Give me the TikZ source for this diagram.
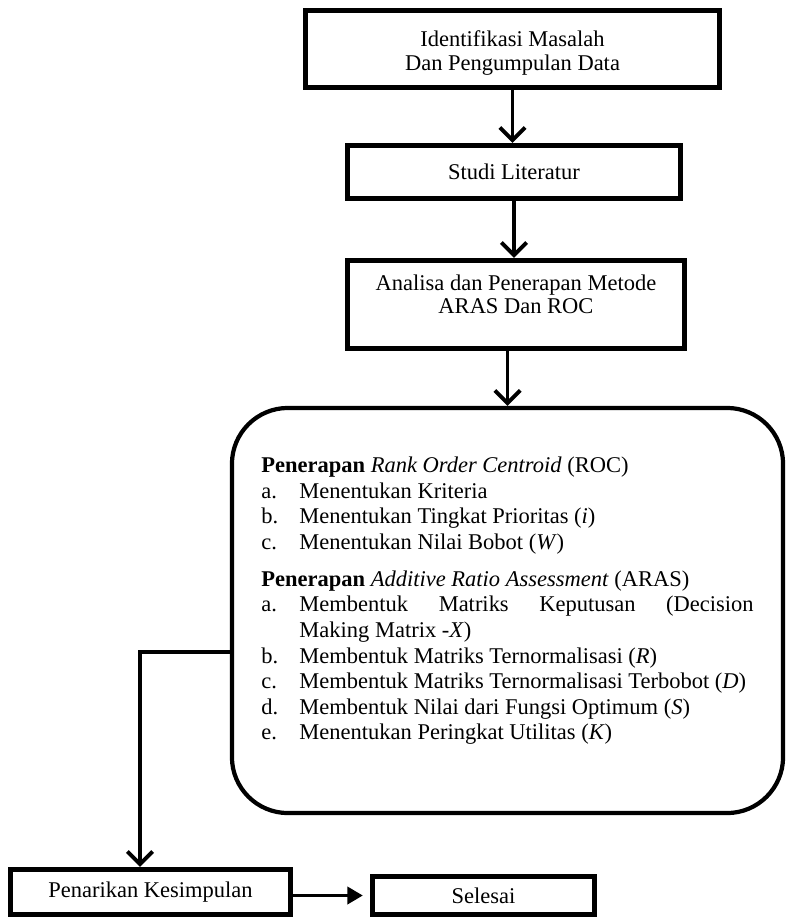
\documentclass[tikz,border=0pt]{standalone}
\usepackage{fontspec}
\setmainfont{Liberation Serif}
\usetikzlibrary{positioning, calc, arrows.meta}

\newcommand{\rocitem}[2]{\par\noindent\hangindent=0.95cm\hangafter=1\makebox[0.95cm][l]{#1}#2\par}

\begin{document}
\begin{tikzpicture}[x=0.025cm, y=-0.025cm,
        stepbox/.style={rectangle, draw=black, line width=3.6pt, align=center, inner sep=0pt, font=\fontsize{16}{16.5}\selectfont},
        methodbox/.style={rectangle, draw=black, line width=3pt, rounded corners=1.4cm, inner sep=0pt, text width=12.3cm, align=justify, minimum width=13.775cm, minimum height=10.125cm, font=\fontsize{16}{18.2}\selectfont},
        flow/.style={-{Straight Barb[length=9pt, width=18pt]}, line width=2.8pt},
        flowfill/.style={-{Triangle[length=11pt, width=12pt]}, line width=2.8pt}
    ]
        \useasboundingbox (0,0) rectangle (789,920);

        \node[stepbox, minimum width=10.35cm, minimum height=1.925cm] (identify) at (512.5,49) {\rule{0pt}{17pt}Identifikasi Masalah\\Dan Pengumpulan Data};
        \node[stepbox, minimum width=8.325cm, minimum height=1.325cm] (review) at (514,172) {Studi Literatur};
        \node[stepbox, minimum width=8.425cm, minimum height=2.2cm] (analysis) at (516,304.5) {Analisa dan Penerapan Metode\\ARAS Dan ROC\rule[-15pt]{0pt}{0pt}};
        \node[methodbox] (method) at (507.5,610.5) {
            \textbf{Penerapan} \textit{Rank Order Centroid} (ROC)
            \rocitem{a.}{Menentukan Kriteria}
            \rocitem{b.}{Menentukan Tingkat Prioritas (\textit{i})}
            \rocitem{c.}{Menentukan Nilai Bobot (\textit{W})}
            \vspace{8pt}
            \noindent\textbf{Penerapan} \textit{Additive Ratio Assessment} (ARAS)
            \rocitem{a.}{Membentuk Matriks Keputusan (Decision\linebreak Making Matrix -\textit{X})}
            \rocitem{b.}{Membentuk Matriks Ternormalisasi (\textit{R})}
            \rocitem{c.}{Membentuk Matriks Ternormalisasi Terbobot (\textit{D})}
            \rocitem{d.}{Membentuk Nilai dari Fungsi Optimum (\textit{S})}
            \rocitem{e.}{Menentukan Peringkat Utilitas (\textit{K})\rule[-17pt]{0pt}{0pt}}
        };
        \node[stepbox, minimum width=7cm, minimum height=1.125cm] (conclusion) at (150.5,892) {Penarikan Kesimpulan};
        \node[stepbox, minimum width=5.55cm, minimum height=0.95cm] (finish) at (483.5,895.5) {Selesai};
        \coordinate (bend) at (140,652);

        \draw[flow] (identify.south) -- (identify.south |- review.north);
        \draw[flow] (review.south) -- (review.south |- analysis.north);
        \draw[flow] (method.north |- analysis.south) -- (method.north);
        \draw[flow] (method.west |- bend) -- (bend) -- (bend |- conclusion.north);
        \draw[flowfill, shorten >=5pt] (conclusion.east |- finish.west) -- (finish.west);
    \end{tikzpicture}
\end{document}
